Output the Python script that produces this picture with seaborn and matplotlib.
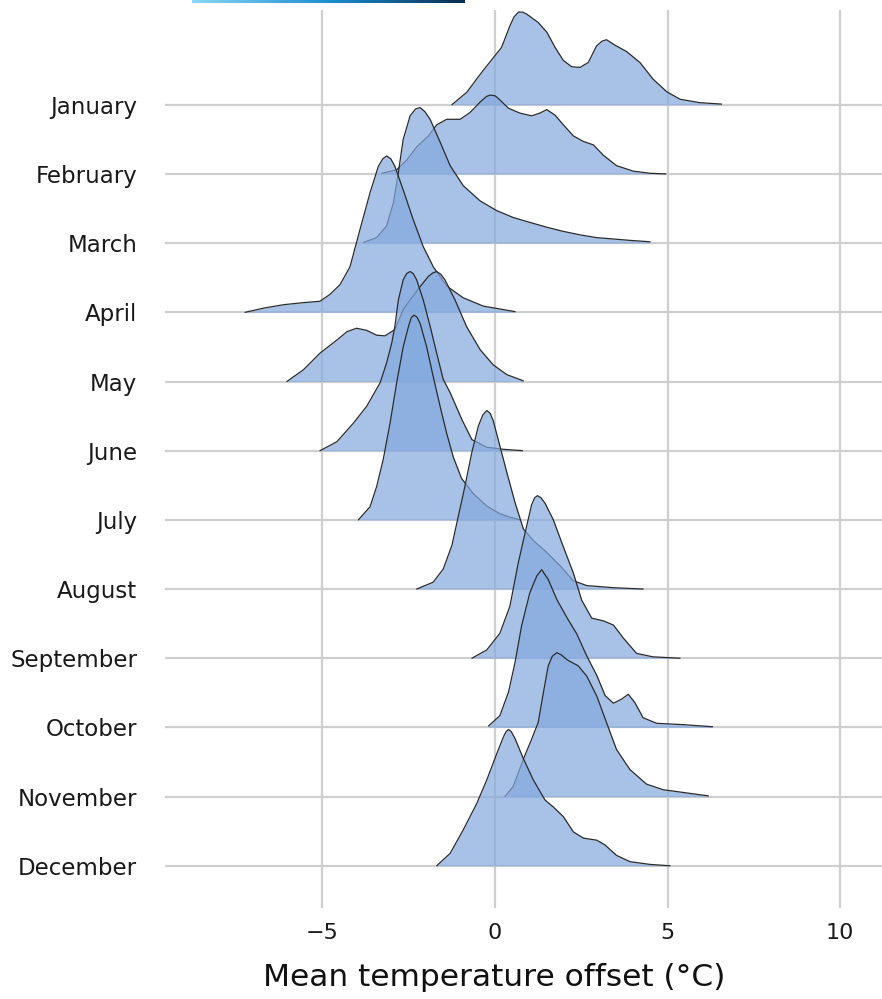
import numpy as np
import pandas as pd
import matplotlib
matplotlib.use("Agg")
import matplotlib.pyplot as plt
import seaborn as sns
from matplotlib.colors import LinearSegmentedColormap

# --- data (x = temperature offset, h = scaled density, 1 = one row) ---
months = ['January', 'February', 'March', 'April', 'May', 'June',
          'July', 'August', 'September', 'October', 'November', 'December']

jan_x = [-1.25, -0.82, -0.43, -0.05, 0.19, 0.43, 0.55, 0.68, 0.80, 0.92, 1.25, 1.50, 1.74, 1.98, 2.22,
         2.46, 2.70, 2.94, 3.10, 3.23, 3.48, 3.81, 4.20, 4.58, 4.97, 5.36, 5.94, 6.56]
jan_h = [0.0, 0.18, 0.44, 0.68, 0.83, 1.14, 1.27, 1.34, 1.34, 1.31, 1.19, 1.05, 0.83, 0.64, 0.55,
         0.54, 0.61, 0.85, 0.92, 0.94, 0.86, 0.77, 0.61, 0.37, 0.19, 0.08, 0.03, 0.01]

feb_x = [-3.28, -2.85, -2.56, -2.27, -1.93, -1.69, -1.40, -1.01, -0.72, -0.43, -0.25, -0.14, 0.0, 0.10, 0.39,
         0.72, 1.06, 1.30, 1.50, 1.74, 1.98, 2.27, 2.56, 2.85, 3.14, 3.52, 4.01, 4.49, 4.95]
feb_h = [0.01, 0.06, 0.20, 0.39, 0.55, 0.71, 0.79, 0.79, 0.89, 1.04, 1.12, 1.14, 1.13, 1.09, 0.95,
         0.88, 0.84, 0.88, 0.93, 0.85, 0.71, 0.55, 0.47, 0.42, 0.27, 0.12, 0.04, 0.01, 0.0]

mar_x = [-3.81, -3.43, -3.14, -2.94, -2.80, -2.66, -2.46, -2.30, -2.17, -2.03, -1.88, -1.59, -1.30, -0.92,
         -0.43, 0.05, 0.53, 1.01, 1.50, 1.98, 2.46, 2.94, 3.43, 3.91, 4.49]
mar_h = [0.01, 0.08, 0.25, 0.59, 1.02, 1.50, 1.84, 1.94, 1.96, 1.90, 1.79, 1.46, 1.12, 0.83,
         0.61, 0.47, 0.37, 0.30, 0.23, 0.17, 0.12, 0.08, 0.06, 0.04, 0.02]

apr_x = [-7.24, -6.71, -6.13, -5.55, -5.07, -4.78, -4.49, -4.20, -3.91, -3.62, -3.38, -3.25, -3.14,
         -3.02, -2.90, -2.66, -2.37, -2.08, -1.79, -1.40, -0.92, -0.34, 0.58]
apr_h = [0.0, 0.06, 0.11, 0.14, 0.16, 0.26, 0.40, 0.66, 1.20, 1.73, 2.11, 2.22, 2.26,
         2.22, 2.11, 1.77, 1.34, 0.95, 0.66, 0.38, 0.21, 0.09, 0.01]

may_x = [-6.03, -5.55, -5.07, -4.58, -4.29, -4.01, -3.72, -3.43, -3.19, -2.90, -2.66,
         -2.46, -2.17, -1.93, -1.80, -1.69, -1.57, -1.45, -1.16, -0.82, -0.43, -0.05, 0.34, 0.82]
may_h = [0.0, 0.17, 0.41, 0.60, 0.72, 0.77, 0.74, 0.67, 0.66, 0.75, 1.04,
         1.18, 1.37, 1.52, 1.57, 1.59, 1.55, 1.47, 1.18, 0.79, 0.46, 0.24, 0.10, 0.01]

jun_x = [-5.07, -4.58, -4.10, -3.72, -3.33, -3.14, -2.99, -2.90, -2.80, -2.66, -2.56, -2.46,
         -2.37, -2.27, -2.08, -1.88, -1.69, -1.50, -1.30, -0.96, -0.67, -0.24, 0.24, 0.80]
jun_h = [0.0, 0.13, 0.40, 0.64, 0.98, 1.27, 1.56, 1.80, 2.18, 2.47, 2.56, 2.59,
         2.56, 2.47, 2.18, 1.80, 1.41, 1.03, 0.84, 0.45, 0.16, 0.05, 0.02, 0.0]

jul_x = [-3.96, -3.62, -3.43, -3.24, -3.04, -2.85, -2.66, -2.51, -2.43, -2.35, -2.26, -2.17, -1.98,
         -1.79, -1.59, -1.40, -1.21, -0.97, -0.63, -0.24, 0.14, 0.43, 0.72]
jul_h = [0.0, 0.19, 0.48, 0.87, 1.40, 1.98, 2.50, 2.79, 2.92, 2.96, 2.93, 2.84, 2.50,
         2.07, 1.64, 1.25, 0.91, 0.60, 0.38, 0.20, 0.09, 0.04, 0.0]

aug_x = [-2.27, -1.79, -1.50, -1.25, -1.06, -0.87, -0.67, -0.48, -0.35, -0.24, -0.14, -0.05, 0.14,
         0.34, 0.58, 0.82, 1.11, 1.50, 1.88, 2.27, 2.66, 3.43, 4.29]
aug_h = [0.0, 0.10, 0.29, 0.63, 1.06, 1.49, 1.98, 2.36, 2.52, 2.58, 2.54, 2.43, 2.07,
         1.69, 1.25, 0.87, 0.70, 0.53, 0.34, 0.12, 0.05, 0.02, 0.0]

sep_x = [-0.67, -0.24, 0.14, 0.43, 0.67, 0.87, 1.06, 1.15, 1.23, 1.33, 1.45, 1.69, 1.98,
         2.27, 2.51, 2.80, 2.97, 3.14, 3.43, 3.72, 4.10, 4.58, 5.36]
sep_h = [0.0, 0.12, 0.36, 0.75, 1.37, 1.81, 2.22, 2.32, 2.35, 2.32, 2.24, 2.00, 1.61,
         1.23, 0.84, 0.58, 0.56, 0.54, 0.48, 0.29, 0.07, 0.02, 0.0]

oct_x = [-0.19, 0.14, 0.39, 0.58, 0.77, 1.01, 1.21, 1.35, 1.54, 1.79, 2.08, 2.37,
         2.66, 2.95, 3.19, 3.43, 3.67, 3.86, 4.05, 4.29, 4.68, 5.45, 6.30]
oct_h = [0.02, 0.17, 0.51, 0.94, 1.47, 1.95, 2.19, 2.28, 2.14, 1.85, 1.59, 1.35,
         1.03, 0.75, 0.46, 0.35, 0.41, 0.48, 0.36, 0.14, 0.06, 0.04, 0.01]

nov_x = [0.29, 0.53, 0.82, 1.06, 1.25, 1.40, 1.54, 1.66, 1.79, 1.92, 2.08, 2.41, 2.66, 2.95,
         3.23, 3.52, 3.91, 4.39, 4.87, 5.45, 6.18]
nov_h = [0.0, 0.15, 0.54, 0.83, 1.07, 1.50, 1.89, 2.03, 2.08, 2.05, 1.98, 1.89, 1.74, 1.45,
         1.07, 0.68, 0.39, 0.18, 0.10, 0.06, 0.01]

dec_x = [-1.69, -1.30, -0.92, -0.53, -0.24, 0.05, 0.24, 0.32, 0.39, 0.47, 0.58, 0.82, 1.11,
         1.45, 1.69, 1.98, 2.27, 2.56, 2.95, 3.19, 3.52, 3.91, 4.49, 5.07]
dec_h = [0.0, 0.18, 0.52, 0.90, 1.24, 1.62, 1.86, 1.94, 1.97, 1.94, 1.84, 1.55, 1.24,
         0.95, 0.85, 0.71, 0.49, 0.40, 0.37, 0.30, 0.15, 0.06, 0.02, 0.0]

ridge_x = [jan_x, feb_x, mar_x, apr_x, may_x, jun_x, jul_x, aug_x, sep_x, oct_x, nov_x, dec_x]
ridge_h = [jan_h, feb_h, mar_h, apr_h, may_h, jun_h, jul_h, aug_h, sep_h, oct_h, nov_h, dec_h]

# long table: January on top (baseline 11), December at the bottom (baseline 0)
rows = []
for i, (m, xs, hs) in enumerate(zip(months, ridge_x, ridge_h)):
    base = len(months) - 1 - i
    for x, h in zip(xs, hs):
        rows.append({'month': m, 'offset': x, 'base': base, 'top': base + h})
df = pd.DataFrame(rows)

# --- plot ---
sns.set_theme(style="whitegrid")
plt.rcParams['font.family'] = ['DejaVu Sans']

fig = plt.figure(figsize=(8.82, 9.99), dpi=100)
ax = fig.add_axes([165 / 882, 91 / 999, 717 / 882, 898 / 999])

fill_color = '#84a9de'
for i, m in enumerate(months):
    sub = df[df['month'] == m]
    ax.fill_between(sub['offset'], sub['base'], sub['top'],
                    color=fill_color, alpha=0.7, lw=0, zorder=2 + 2 * i)
    sns.lineplot(data=sub, x='offset', y='top', ax=ax, color='#2b2b2b',
                 lw=0.9, sort=False, estimator=None, zorder=3 + 2 * i,
                 solid_joinstyle='round')

ax.set_xlim(-9.56, 11.21)
ax.set_ylim(-0.61, 12.37)
ax.set_xticks([-5, 0, 5, 10])
ax.set_yticks(range(len(months)))
ax.set_yticklabels(months[::-1])
ax.grid(True, color='#cfcfcf', lw=1.6)
ax.set_axisbelow(True)
for s in ax.spines.values():
    s.set_visible(False)
ax.tick_params(axis='y', length=0, pad=20, labelsize=16.5, labelcolor='#1a1a1a')
ax.tick_params(axis='x', length=0, pad=11, labelsize=16, labelcolor='#1a1a1a')
ax.set_ylabel('')
ax.set_xlabel('Mean temperature offset (°C)', fontsize=22.5, color='#111111')
ax.xaxis.set_label_coords(0.459, -0.061)

# leftover colour strip at the top edge
cmap = LinearSegmentedColormap.from_list('strip', ['#8dd8f8', '#1b8fd0', '#0b2d4f'])
cax = fig.add_axes([192 / 882, 1 - 3 / 999, 273 / 882, 3 / 999])
cax.imshow(np.linspace(0, 1, 256)[None, :], aspect='auto', cmap=cmap)
cax.axis('off')

fig.savefig('out.png', dpi=100)
